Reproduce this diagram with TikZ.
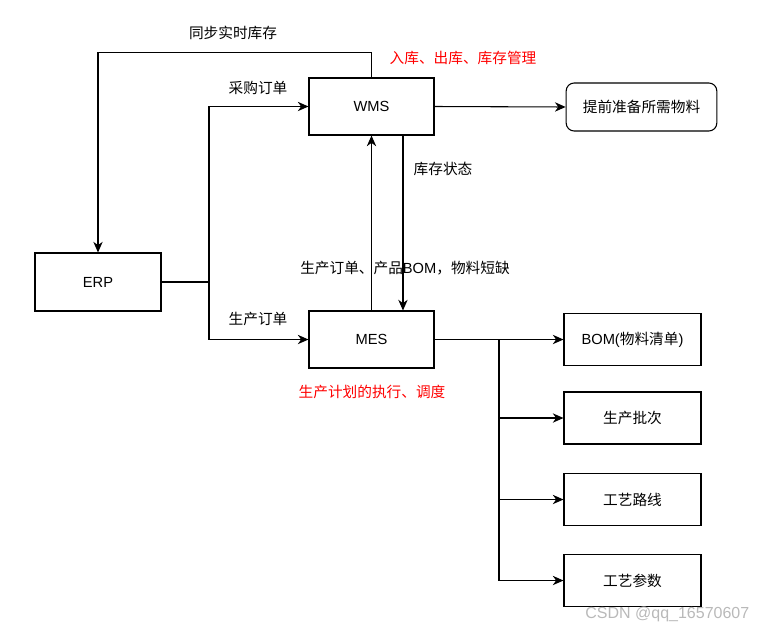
\documentclass[tikz,border=0pt]{standalone}
\usepackage{fontspec}
\setmainfont{Liberation Sans}
\newfontfamily\cjk{Noto Sans CJK SC}
\usetikzlibrary{arrows.meta}

\tikzset{
  box/.style={draw,line width=0.8pt,minimum width=93.75pt,minimum height=42.75pt,inner sep=0pt},
  subbox/.style={box,minimum width=102.75pt,minimum height=39pt},
  goalbox/.style={box,rounded corners=6pt,minimum width=113pt,minimum height=36pt},
  arr/.style={line width=0.8pt,-{Stealth[length=8pt,width=7pt,inset=2.5pt]}},
  link/.style={line width=0.8pt},
  note/.style={text=red,anchor=west}
}

\begin{document}
\begin{tikzpicture}[x=0.75pt,y=-0.75pt,font=\fontsize{11}{13}\selectfont]
\useasboundingbox (0,0) rectangle (767,632);

% systems
\node[box] (wms) at (371.5,106.5) {WMS};
\node[box] (mes) at (371.5,339.5) {MES};
\node[box,minimum width=94.5pt,minimum height=43.5pt] (erp) at (98,282) {ERP};
\node[goalbox] (prep) at (641.5,107) {\cjk 提前准备所需物料};

% MES data
\node[subbox] (bom) at (632.5,339.5) {BOM({\cjk 物料清单})};
\node[subbox] (batch) at (632.5,418) {\cjk 生产批次};
\node[subbox] (route) at (632.5,499.5) {\cjk 工艺路线};
\node[subbox] (param) at (632.5,580.5) {\cjk 工艺参数};

\coordinate (split) at (209,282);
\coordinate (fork) at (499,339.5);

% connectors
\draw[link] (erp.east) -- (split);
\draw[arr] (split) |- (wms.west);
\draw[arr] (split) |- (mes.west);
\draw[arr] (wms.north) -- ++(0,-25) -| (erp.north);
\draw[arr] (mes.north) -- (wms.south);
\draw[arr] ([xshift=23.6pt]wms.south) -- ([xshift=23.6pt]mes.north);
\draw[arr] (wms.east) -- (prep.west);
\draw[arr] (mes.east) -- (bom.west);
\foreach \n in {batch,route,param}
  \draw[arr] (fork) |- (\n.west);

% labels
\node (synclbl) at (233,33) {\cjk 同步实时库存};
\node[note] (wmsnote) at (385,58) {\cjk 入库、出库、库存管理};
\node (buylbl) at (258,88) {\cjk 采购订单};
\node[anchor=west] (stocklbl) at (409,169) {\cjk 库存状态};
\node (orderlbl) at (405,268) {{\cjk 生产订单、产品}BOM{\cjk ，物料短缺}};
\node (prodlbl) at (258,319) {\cjk 生产订单};
\node[note] (mesnote) at (294,392) {\cjk 生产计划的执行、调度};

\node[text=gray!55,anchor=east,font=\fontsize{12}{14}\selectfont] (mark) at (754,614) {CSDN @qq\_16570607};
\end{tikzpicture}
\end{document}
